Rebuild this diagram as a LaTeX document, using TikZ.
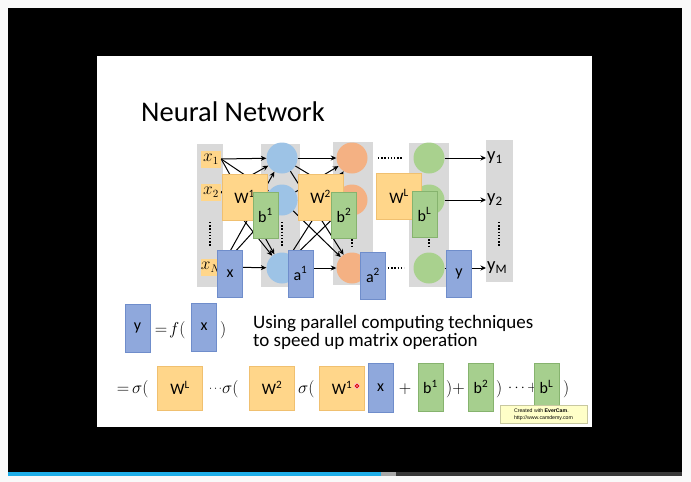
\documentclass[tikz,border=0pt]{standalone}
\usepackage{fontspec}
\setmainfont{Carlito}
\newfontfamily\tipfont{Liberation Sans}
\usetikzlibrary{arrows.meta}

\definecolor{pagebg}{HTML}{F9F9F9}
\definecolor{colgrey}{HTML}{D9D9D9}
\definecolor{wfill}{HTML}{FFD68A}
\definecolor{wline}{HTML}{F0C070}
\definecolor{bfill}{HTML}{A6CF8E}
\definecolor{bline}{HTML}{86B36E}
\definecolor{vfill}{HTML}{8FA8DC}
\definecolor{vline}{HTML}{6F8DCB}
\definecolor{cblue}{HTML}{9DC3E6}
\definecolor{corange}{HTML}{F4B183}
\definecolor{cgreen}{HTML}{A9D18E}
\definecolor{barblue}{HTML}{1EAEE8}
\definecolor{tipfill}{HTML}{FFFFC8}
\definecolor{tipline}{HTML}{C8C8A0}

\tikzset{
  colbg/.style={fill=colgrey},
  neuron/.style={circle, minimum size=31pt, inner sep=0pt},
  inbox/.style={fill=wfill, minimum width=20pt, minimum height=17pt, inner sep=0pt,
                font=\fontsize{16}{16}\selectfont},
  wbox/.style={fill=wfill, draw=wline, line width=0.4pt, minimum width=45pt,
               minimum height=46pt, inner sep=0pt, font=\fontsize{16}{16}\selectfont},
  bbox/.style={fill=bfill, draw=bline, line width=0.4pt, minimum width=25pt,
               minimum height=46pt, inner sep=0pt, font=\fontsize{16}{16}\selectfont},
  vbox/.style={fill=vfill, draw=vline, line width=0.4pt, minimum width=25pt,
               minimum height=47pt, inner sep=0pt, font=\fontsize{16}{16}\selectfont},
  arr/.style={-{Stealth[length=5.5pt,width=5pt]}, line width=1pt},
  vdots/.style={line width=1.6pt, dash pattern=on 1.3pt off 1.9pt},
  outlab/.style={anchor=west, inner sep=1pt, font=\fontsize{18.5}{18.5}\selectfont},
  mathtxt/.style={inner sep=0pt, anchor=base, font=\fontsize{19}{19}\selectfont},
}

\begin{document}
\begin{tikzpicture}[x=1pt,y=-1pt]
\useasboundingbox (0,0) rectangle (691,482);

% screen frame, slide and progress bar
\fill[pagebg] (0,0) rectangle (691,482);
\fill[black] (8,8) rectangle (682,472);
\fill[white] (97,56) rectangle (592,427);
\fill[barblue] (8,472) rectangle (381,475.5);
\fill[gray!70] (381,472) rectangle (396,475.5);
\fill[black!78] (396,472) rectangle (682,475.5);

% title
\node[anchor=base west, inner sep=0pt, font=\fontsize{28.5}{28.5}\selectfont]
  (title) at (141,121) {Neural Network};

% layer columns
\fill[colbg] (197,144) rectangle (223,287);
\fill[colbg] (261,144) rectangle (300,287);
\fill[colbg] (333,142) rectangle (373,285);
\fill[colbg] (409,143) rectangle (449,287);
\fill[colbg] (486,140) rectangle (513,282);

% vertical ellipses in the columns
\draw[vdots] (210,222) -- (210,246);
\draw[vdots] (282,222) -- (282,246);
\draw[vdots] (352,236) -- (352,246);
\draw[vdots] (429,236) -- (429,246);
\draw[vdots] (499,222) -- (499,246);

% horizontal ellipses between layers
\draw[vdots] (378,158) -- (403,158);
\draw[vdots] (388,268) -- (404,268);

% neurons
\foreach \i/\yy in {1/158,2/200,3/268}{
  \node[neuron, fill=cblue]   (h1\i) at (282,\yy) {};
  \node[neuron, fill=corange] (h2\i) at (352,\yy) {};
  \node[neuron, fill=cgreen]  (hL\i) at (429,\yy) {};
}

% inputs
\node[inbox] (x1) at (211,159) {$x_1$};
\node[inbox] (x2) at (211,192) {$x_2$};
\node[inbox] (x3) at (211,267) {$x_N$};

% outputs
\node[outlab] (y1) at (486,158) {y\textsubscript{1}};
\node[outlab] (y2) at (486,200) {y\textsubscript{2}};
\node[outlab] (y3) at (486,268) {y\textsubscript{M}};

% connections
\foreach \i in {1,2,3}{
  \foreach \j in {1,2,3}{
    \draw[arr] (x\i.east) -- (h1\j);
    \draw[arr] (h1\i) -- (h2\j);
  }
  \draw[arr] (hL\i) -- (y\i.west);
}

% weight matrices, biases and activations
\node[wbox] (W1) at (244.5,197) {W\textsuperscript{1}};
\node[bbox] (b1) at (265.5,215.5) {b\textsuperscript{1}};
\node[wbox] (W2) at (320.5,197) {W\textsuperscript{2}};
\node[bbox] (b2) at (344,215.5) {b\textsuperscript{2}};
\node[wbox] (WL) at (399,196.5) {W\textsuperscript{L}};
\node[bbox] (bL) at (424.5,214.5) {b\textsuperscript{L}};
\node[vbox] (xv) at (230,273.5) {x};
\node[vbox] (a1) at (300.5,273.5) {a\textsuperscript{1}};
\node[vbox] (a2) at (373,275.5) {a\textsuperscript{2}};
\node[vbox] (yv) at (459,273.5) {y};

% y = f(x)
\node[vbox, minimum height=48pt] (yf) at (137.5,328) {y};
\node[mathtxt] (eqf) at (161,334) {$=$};
\node[mathtxt, anchor=base west] (fopen) at (169,334) {$f($};
\node[vbox, minimum height=48pt] (xf) at (204,327) {x};
\node[mathtxt, anchor=base west] (fclose) at (220,334) {$)$};

% the base anchor of this two-line node sits on its last line
\node[anchor=base west, inner sep=0pt, align=left, font=\fontsize{19}{18.5}\selectfont]
  (note) at (253,346.5) {Using parallel computing techniques\\to speed up matrix operation};

% expanded form
\node[mathtxt] (eq) at (123,393) {$=$};
\node[mathtxt, anchor=base west] (s1) at (132,393) {$\sigma($};
\node[wbox, minimum height=44pt] (WLb) at (180,388) {W\textsuperscript{L}};
\node[mathtxt, anchor=base west, font=\fontsize{11}{11}\selectfont] (s2a) at (209,391) {$\cdots$};
\node[mathtxt, anchor=base west] (s2) at (222,393) {$\sigma($};
\node[wbox, minimum height=44pt] (W2b) at (272,388) {W\textsuperscript{2}};
\node[mathtxt, anchor=base west] (s3) at (298,393) {$\sigma($};
\node[wbox, minimum height=44pt] (W1b) at (342,388) {W\textsuperscript{1}};
\node[vbox, minimum height=49pt] (xb) at (380.5,387.5) {x};
\node[mathtxt] (plus1) at (405,393) {$+$};
\node[bbox, minimum height=48pt] (b1b) at (430.5,387) {b\textsuperscript{1}};
\node[mathtxt, anchor=base west] (c1) at (446,393) {$)+$};
\node[bbox, minimum height=48pt] (b2b) at (481,387) {b\textsuperscript{2}};
\node[mathtxt, anchor=base west] (c2) at (496,393) {$)$};
\node[mathtxt, anchor=base west, font=\fontsize{14}{14}\selectfont] (c3) at (508,391) {$\cdots{+}$};
\node[bbox, minimum height=48pt] (bLb) at (546.5,387) {b\textsuperscript{L}};
\node[mathtxt, anchor=base west] (c4) at (563,393) {$)$};

% pointer highlight
\fill[red!25] (357,386) circle (3.2);
\draw[red!85!black, line width=0.9pt] (357,386) circle (1.8);

% recorder tooltip
\node[fill=tipfill, draw=tipline, line width=0.4pt, minimum width=87pt, minimum height=18pt,
      inner sep=1pt, align=left, font=\tipfont\fontsize{5.2}{6.4}\selectfont]
  (tip) at (543.5,414.5) {Created with \textbf{EverCam}.\\http://www.camdemy.com};
\end{tikzpicture}
\end{document}
